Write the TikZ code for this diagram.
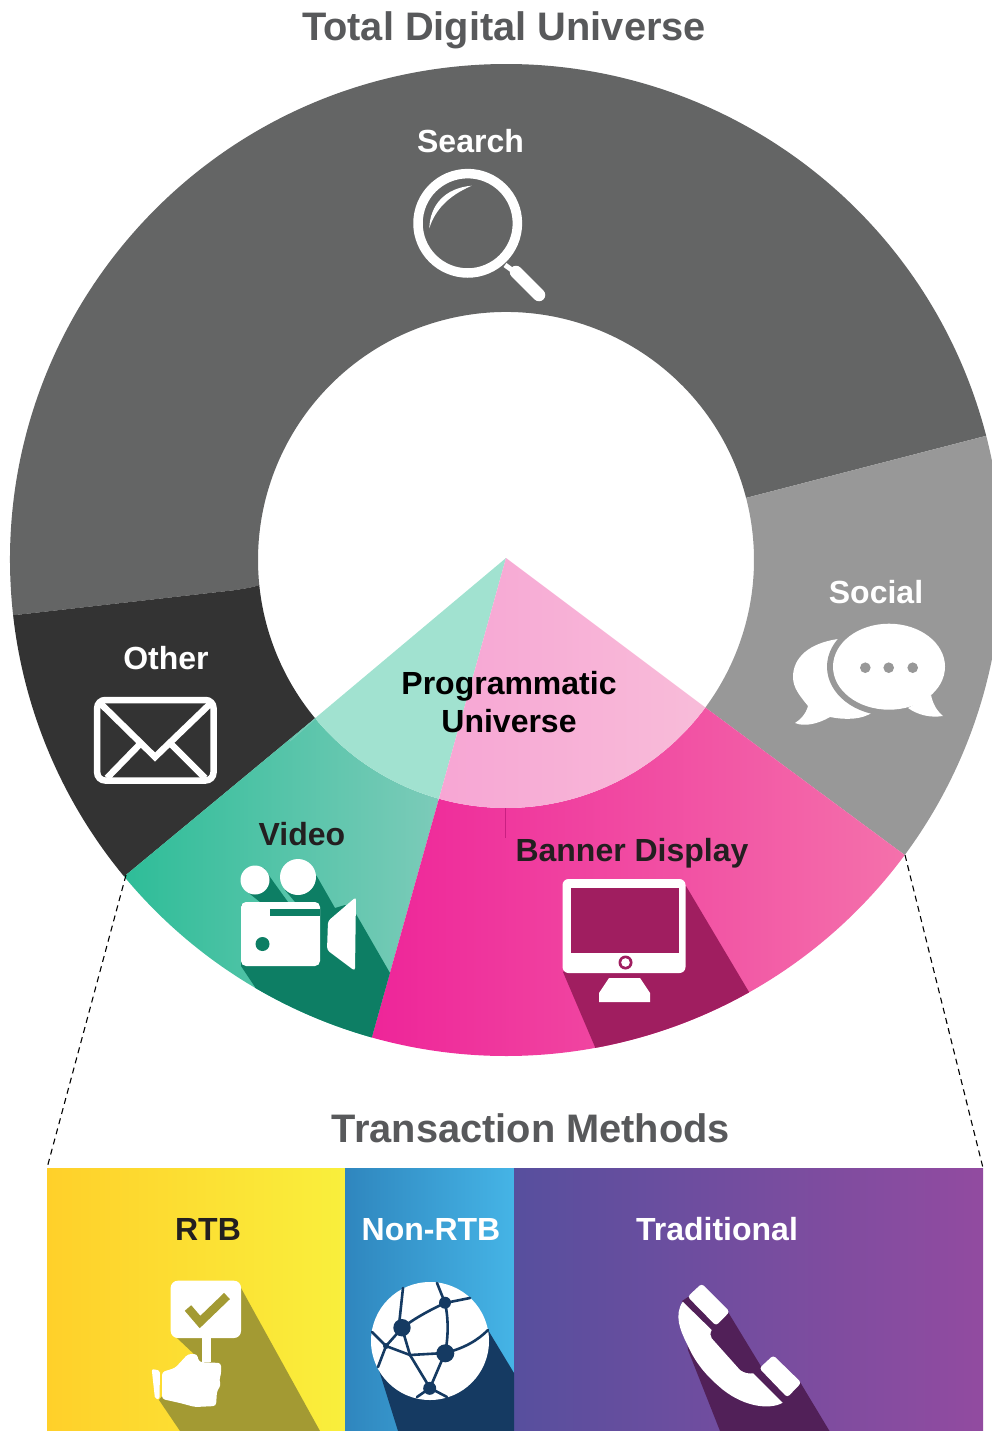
\documentclass[tikz,border=0pt]{standalone}
\usepackage{fontspec}
\setmainfont{Liberation Sans}
\definecolor{srch}{HTML}{646565}
\definecolor{socl}{HTML}{989898}
\definecolor{othr}{HTML}{333333}
\definecolor{tealA}{HTML}{2EBD98}
\definecolor{tealB}{HTML}{7CCBB9}
\definecolor{tealD}{HTML}{0D7E64}
\definecolor{tealL}{HTML}{A1E2D0}
\definecolor{pinkA}{HTML}{EE2599}
\definecolor{pinkB}{HTML}{F471AB}
\definecolor{pinkD}{HTML}{A01E60}
\definecolor{pinkL}{HTML}{F7A6D4}
\definecolor{pinkM}{HTML}{F8BCD9}
\definecolor{yelA}{HTML}{FFD02A}
\definecolor{yelB}{HTML}{F9EF3C}
\definecolor{yelD}{HTML}{A39A33}
\definecolor{bluA}{HTML}{2F86BE}
\definecolor{bluB}{HTML}{45B4E6}
\definecolor{bluD}{HTML}{153A62}
\definecolor{purA}{HTML}{574F9E}
\definecolor{purB}{HTML}{924BA0}
\definecolor{purD}{HTML}{512058}
\definecolor{titleC}{HTML}{58595B}
\definecolor{darkT}{HTML}{231F20}
\tikzset{
  lab/.style={font=\bfseries\fontsize{32}{38}\selectfont,anchor=base,inner sep=0pt},
  ttl/.style={font=\bfseries\fontsize{39.8}{46}\selectfont,anchor=base,inner sep=0pt,text=titleC},
  icon/.style={fill=white,draw=none},
  netline/.style={draw=bluD,line width=2.6pt,line cap=round},
  guide/.style={draw=black,line width=1.1pt,dash pattern=on 6pt off 4.5pt}
}
\begin{document}
\begin{tikzpicture}[x=1pt,y=-1pt]
\useasboundingbox (0,0) rectangle (992,1431);
\clip (0,0) rectangle (992,1431);
% ring
\begin{scope}[shift={(506,560)}]
\fill[srch] (173.6:496) arc[start angle=173.6,end angle=345.5,radius=496] -- (345.5:248) arc[start angle=345.5,end angle=174.2,radius=248] .. controls (-255,28) and (-265,29) .. (-270,30) -- cycle;
\fill[socl] (345.5:496) arc[start angle=345.5,end angle=396.5,radius=496] -- (396.5:248) arc[start angle=396.5,end angle=345.5,radius=248] -- cycle;
\fill[othr] (140.35:496) arc[start angle=140.35,end angle=173.6,radius=496] -- (-270,30) .. controls (-265,29) and (-255,28) .. (174.2:248) arc[start angle=174.2,end angle=140.35,radius=248] -- cycle;
\shade[left color=tealA,right color=tealB] (105.7:496) arc[start angle=105.7,end angle=140.35,radius=496] -- (140.35:248) arc[start angle=140.35,end angle=105.7,radius=248] -- cycle;
\shade[left color=pinkA,right color=pinkB] (36.5:496) arc[start angle=36.5,end angle=105.7,radius=496] -- (105.7:248) arc[start angle=105.7,end angle=36.5,radius=248] -- cycle;
% long shadows, clipped to their sectors
\begin{scope}
\clip (105.7:496) arc[start angle=105.7,end angle=140.35,radius=496] -- (140.35:248) arc[start angle=140.35,end angle=105.7,radius=248] -- cycle;
\fill[tealD] (-242,308) -- (-236,317) -- (-218,342) -- (-246,342) -- (-261,330) -- cycle;
\fill[tealD] (-189.3,316) -- (-171,348) -- (-161,345) -- (-150,354) -- (-116,413) -- (-116,500) -- (-251,500) -- (-251,427) -- (-265,406) -- (-265,345) -- (-211,342) -- (-221,330) -- (-208,300) -- cycle;
\end{scope}
\begin{scope}
\clip (36.5:496) arc[start angle=36.5,end angle=105.7,radius=496] -- (105.7:248) arc[start angle=105.7,end angle=36.5,radius=248] -- cycle;
\fill[pinkD] (180,326) -- (243,432) -- (243,540) -- (89,540) -- (89,487) -- (57,412) -- cycle;
\end{scope}
% programmatic core
\fill[tealL] (0,-2) -- (140.35:248) arc[start angle=140.35,end angle=105.7,radius=248] -- cycle;
\shade[left color=pinkL,right color=pinkM] (0,-2) -- (105.7:248) arc[start angle=105.7,end angle=36.5,radius=248] -- cycle;
\end{scope}
\draw[draw=pinkA!85!black,line width=.6pt] (505.5,808) -- (505.5,838);
\draw[draw=tealB,line width=.8pt] (290,741) -- (316,718);
% bottom bands
\shade[left color=yelA,right color=yelB] (47,1168) rectangle (345,1431);
\shade[left color=bluA,right color=bluB] (345,1168) rectangle (514,1431);
\shade[left color=purA,right color=purB] (514,1168) rectangle (983,1431);
\fill[yelD] (241,1288) -- (320,1431) -- (180,1431) -- (159,1400) -- (175,1380) -- (195,1355) -- (177,1338) -- (177,1290) -- cycle;
\fill[bluD] (488,1330) -- (514,1373) -- (514,1431) -- (398,1431) -- (378,1367) -- cycle;
\fill[purD] (688,1297) -- (728,1312) -- (762,1368) -- (800,1382) -- (829.5,1431) -- (720,1431) -- (688,1350) -- (682,1301) -- cycle;
% guides
\coordinate (gl1) at (126,875); \coordinate (gl2) at (47,1168);
\coordinate (gr1) at (905,855); \coordinate (gr2) at (983,1168);
\draw[guide] (gl1) -- (gl2);
\draw[guide] (gr1) -- (gr2);
% text
\node[ttl] (t1) at (504,41) {Total Digital Universe};
\node[ttl] (t2) at (531,1142) {Transaction Methods};
\node[lab,text=white] (search) at (470.5,153) {Search};
\node[lab,text=white] (social) at (876,603) {Social};
\node[lab,text=white] (other) at (166,669) {Other};
\node[lab,text=darkT] (video) at (302,845) {Video};
\node[lab,text=darkT] (banner) at (632,861) {Banner Display};
\node[font=\bfseries\fontsize{32}{38}\selectfont,align=center,inner sep=0pt,text=black] (prog) at (509,702) {Programmatic\\Universe};
\node[lab,text=darkT] (rtb) at (208,1240) {RTB};
\node[lab,text=white] (nonrtb) at (431,1240) {Non-RTB};
\node[lab,text=white] (trad) at (717,1240) {Traditional};
% search icon
\draw[white,line width=9.5pt] (467.7,223.3) circle[radius=49.7];
\draw[white,line width=5pt] (505,265) -- (516,273);
\draw[white,line width=12.5pt,line cap=round] (516,272) -- (539,295);
\fill[white] (471.7,185.7) .. controls (445,188) and (430,205) .. (429.3,228.3) .. controls (435,210) and (448,196) .. cycle;
% envelope
\draw[white,line width=6.5pt,rounded corners=8pt] (97.2,700) rectangle (213.5,780.5);
\draw[white,line width=6.5pt] (100,703) -- (155,757) -- (211,703);
\draw[white,line width=6.5pt] (107,778) -- (141,743);
\draw[white,line width=6.5pt] (170,743) -- (205,778);
% social icon
\fill[icon] (838,639) .. controls (810,643) and (793,657) .. (793,677) .. controls (793,688) and (800,696) .. (808,706) .. controls (806,714) and (800,720) .. (795,723) .. controls (804,727) and (818,724) .. (830,717) .. controls (845,720) and (862,720) .. (873,712) -- (860,660) -- cycle;
\fill[socl] (889,666.7) ellipse[x radius=62,y radius=49];
\fill[icon] (889,666.7) ellipse[x radius=56,y radius=43];
\fill[icon] (931,695) .. controls (933,705) and (938,712) .. (943,716) .. controls (930,718) and (918,715) .. (908,708) -- cycle;
\fill[socl] (865.3,667.7) circle[radius=5.3] (888.7,667.7) circle[radius=5.3] (912.7,667.7) circle[radius=5.3];
% video icon
\fill[icon] (255,880) circle[radius=14.5] (298,877) circle[radius=18];
\fill[icon,rounded corners=5pt] (241,902) rectangle (320,966);
\fill[tealD] (270,909) rectangle (320,916);
\fill[tealD] (262.5,944) circle[radius=7];
\fill[icon,rounded corners=3pt] (356,897) -- (328,921) -- (327,950) -- (355,971) -- cycle;
% monitor
\fill[icon,rounded corners=6pt] (562.5,879) rectangle (685.5,973);
\fill[pinkD] (571,888) rectangle (678.5,952.7);
\fill[pinkD] (625.5,962.5) circle[radius=7];
\fill[icon] (625.5,962.5) circle[radius=4.3];
\fill[icon] (599,1002) -- (599,993) -- (609,978) -- (640,978) -- (650,993) -- (650,1002) -- cycle;
% RTB icon
\fill[icon,rounded corners=7pt] (170.7,1280.7) rectangle (241,1338);
\fill[icon] (202.3,1335) rectangle (210.7,1362);
\draw[yelD,line width=8.5pt] (188,1308) -- (200,1322) -- (227,1296);
\fill[icon,rounded corners=2pt] (151.7,1369) -- (160,1370.5) -- (159.5,1399) -- (155,1399) -- cycle;
\fill[icon,rounded corners=3pt] (162,1372) -- (175,1368) -- (188,1354) -- (197,1354) -- (199,1362) -- (221,1363) -- (221,1375) -- (219,1380) -- (221,1385) -- (217,1391) -- (216,1406) -- (195,1407) -- (180,1403) -- (162,1399) -- cycle;
% globe
\fill[icon] (430,1341) circle[radius=59];
\draw[netline] (403,1288) -- (399,1325);
\draw[netline] (437,1283) -- (445,1303);
\draw[netline] (445,1303) -- (470,1298);
\draw[netline] (445,1303) .. controls (430,1310) and (415,1318) .. (402,1328);
\draw[netline] (445,1303) .. controls (449,1320) and (448,1340) .. (445,1353);
\draw[netline] (402,1328) -- (410,1355) -- (445,1353);
\draw[netline] (402,1328) -- (386,1346);
\draw[netline] (372,1332) -- (386,1346) -- (410,1355);
\draw[netline] (410,1355) -- (430,1388);
\draw[netline] (445,1353) -- (430,1388);
\draw[netline] (445,1353) .. controls (465,1348) and (478,1340) .. (488,1330);
\draw[netline] (386,1346) -- (378,1367);
\draw[netline] (430,1388) -- (417,1397);
\draw[netline] (430,1388) -- (447,1397);
\fill[bluD] (402,1327.7) circle[radius=8.7] (445,1302.7) circle[radius=6] (445.3,1353.3) circle[radius=9] (429.7,1388.3) circle[radius=6.5] (386,1346) circle[radius=3];
% phone
\fill[icon,rounded corners=3pt] (701.7,1283.6) -- (729.7,1311.7) -- (716,1325.7) -- (687.6,1296.7) -- cycle;
\fill[icon,rounded corners=3pt] (773.3,1355.3) -- (801.4,1382.7) -- (787.3,1397.4) -- (759.3,1368.3) -- cycle;
\fill[icon] (682.7,1301.7) -- (711.7,1330) .. controls (710,1333) and (710,1336) .. (711.7,1338.3) -- (740,1370) .. controls (744,1373) and (749,1374) .. (753.3,1373.3) -- (782.7,1402.7) .. controls (770,1410) and (745,1407) .. (723.3,1390) .. controls (705,1375) and (695,1362) .. (686.7,1343.3) .. controls (680,1330) and (674,1315) .. (682.7,1301.7) -- cycle;
\end{tikzpicture}
\end{document}
